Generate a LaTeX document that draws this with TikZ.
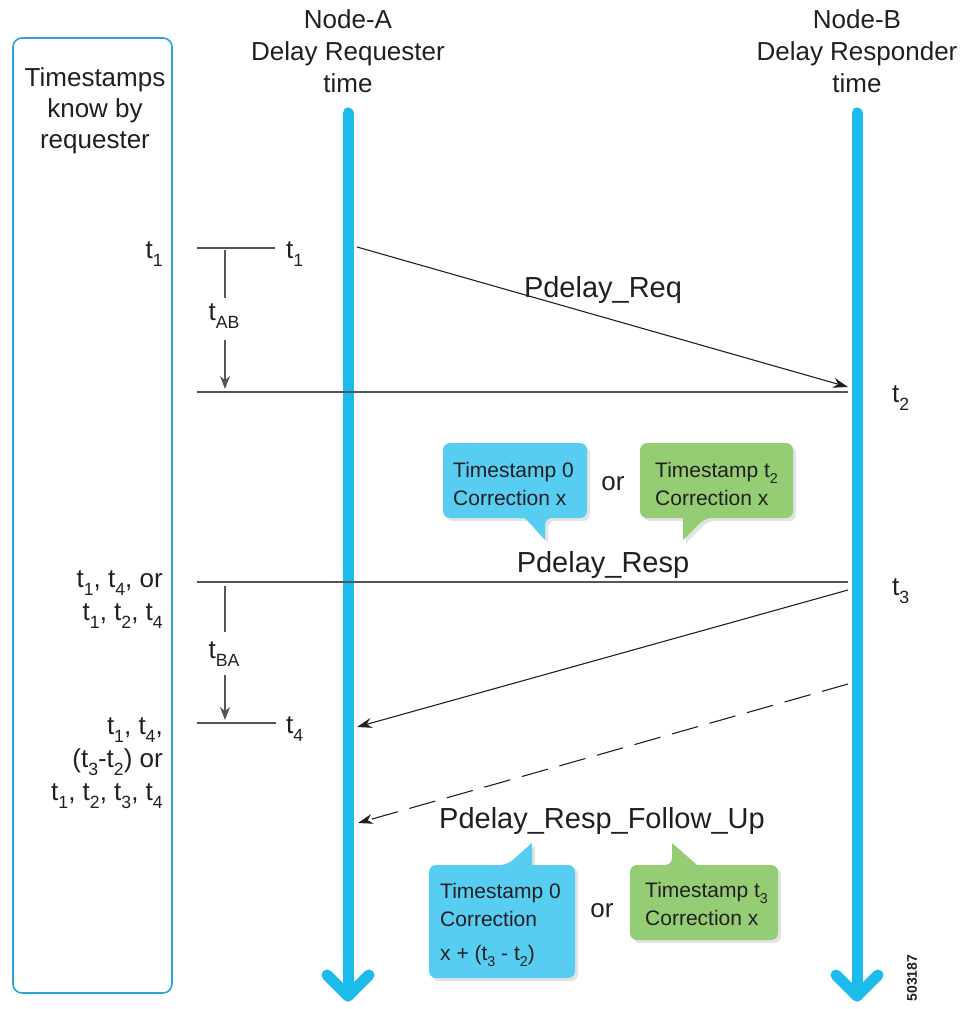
\documentclass[tikz,border=0pt]{standalone}
\usepackage{fontspec}
\setmainfont{Liberation Sans}
\usetikzlibrary{arrows.meta,shadows,calc}
\definecolor{tlblue}{RGB}{29,187,236}
\definecolor{boxblue}{RGB}{41,163,221}
\definecolor{calblue}{RGB}{88,205,242}
\definecolor{calgreen}{RGB}{148,205,116}
\definecolor{txt}{RGB}{35,31,32}
\definecolor{gl}{RGB}{85,85,85}
\newcommand\dn[1]{\raisebox{-0.6ex}{\scalebox{0.68}{#1}}}
\begin{document}
\begin{tikzpicture}[x=1pt,y=-1pt,
  hdr/.style={font=\fontsize{26}{32}\selectfont, align=center, inner sep=0pt, text=txt},
  lbl/.style={font=\fontsize{26}{33}\selectfont, inner sep=0pt, text=txt},
  msg/.style={font=\fontsize{29}{32}\selectfont, inner sep=0pt, text=txt},
  cal/.style={font=\fontsize{21}{28}\selectfont, align=left, inner sep=0pt, text=txt, anchor=base west},
  tline/.style={line width=11pt, draw=tlblue, line cap=round, line join=round},
  gline/.style={draw=gl, line width=1.3pt},
  msgarrow/.style={draw=txt, line width=1.1pt, -{Stealth[length=15pt,width=10pt]}},
  tickarrow/.style={gline, -{Stealth[length=13pt,width=10pt]}},
  callshadow/.style={drop shadow={opacity=0.22, shadow xshift=3pt, shadow yshift=-3pt}}]
\useasboundingbox (0,0) rectangle (965,1009);

% left box
\draw[draw=boxblue, line width=1.6pt, rounded corners=9pt] (13,38) rectangle (172,993);
\node[hdr, font=\fontsize{26}{31}\selectfont, anchor=base] (ttl) at (95,148) {Timestamps\\know by\\requester};

% headers (anchor = baseline of last line)
\node[hdr, anchor=base] (hA) at (348,92) {Node-A\\Delay Requester\\time};
\node[hdr, anchor=base] (hB) at (857,92) {Node-B\\Delay Responder\\time};

% lifelines
\coordinate (Atop) at (348,113);
\coordinate (Abot) at (348,996);
\coordinate (Btop) at (857,113);
\coordinate (Bbot) at (857,996);
\draw[tline] (Atop) -- (Abot);
\draw[tline] ($(Abot)+(-21,-21)$) -- (Abot) -- ($(Abot)+(21,-21)$);
\draw[tline] (Btop) -- (Bbot);
\draw[tline] ($(Bbot)+(-21,-21)$) -- (Bbot) -- ($(Bbot)+(21,-21)$);

% t1 row
\coordinate (h1L) at (197,248);
\coordinate (h1R) at (275,248);
\draw[gline] (h1L) -- (h1R);
\node[lbl, anchor=base east] (k1) at (163,258) {t\dn{1}};
\node[lbl, anchor=base west] (a1) at (286,258) {t\dn{1}};
\coordinate (v1a) at (225,250);
\coordinate (v1b) at (225,298);
\draw[gline] (v1a) -- (v1b);
\node[lbl, anchor=base] (tab) at (224,320) {t\dn{AB}};
\coordinate (v1c) at (225,340);
\coordinate (v1d) at (225,389);
\draw[tickarrow] (v1c) -- (v1d);
\coordinate (h2L) at (197,392);
\coordinate (h2R) at (848,392);
\draw[gline] (h2L) -- (h2R);
\node[lbl, anchor=base west] (b2) at (892,402) {t\dn{2}};

% Pdelay_Req
\coordinate (reqS) at (357,247);
\coordinate (reqE) at (848,387);
\draw[msgarrow] (reqS) -- (reqE);
\node[msg, anchor=base] (mreq) at (603,297) {Pdelay\_Req};

% upper callouts
\path[fill=calblue, callshadow, rounded corners=7pt] (443,443) -- (587,443) -- (587,518) -- (545,518) [sharp corners] -- (545,540) -- (525,518) [rounded corners=7pt] -- (443,518) -- cycle;
\path[fill=calgreen, callshadow, rounded corners=7pt] (640,443) -- (793,443) -- (793,518) -- (705,518) [sharp corners] -- (683,540) -- (683,518) [rounded corners=7pt] -- (640,518) -- cycle;
\node[cal] (c1t) at (453,505) {Timestamp 0\\Correction x};
\node[cal] (c2t) at (655,505) {Timestamp t\dn{2}\\Correction x};
\node[lbl, anchor=base] (or1) at (613,490) {or};

% Pdelay_Resp row
\node[msg, anchor=base] (mresp) at (603,572) {Pdelay\_Resp};
\coordinate (h3L) at (197,582);
\coordinate (h3R) at (848,582);
\draw[gline] (h3L) -- (h3R);
\node[lbl, anchor=base west] (b3) at (892,595) {t\dn{3}};
\node[lbl, align=right, anchor=base east] (k2) at (163,620) {t\dn{1}, t\dn{4}, or\\t\dn{1}, t\dn{2}, t\dn{4}};
\coordinate (v2a) at (225,586);
\coordinate (v2b) at (225,632);
\draw[gline] (v2a) -- (v2b);
\node[lbl, anchor=base] (tba) at (224,658) {t\dn{BA}};
\coordinate (v2c) at (225,675);
\coordinate (v2d) at (225,720);
\draw[tickarrow] (v2c) -- (v2d);
\coordinate (h4L) at (197,723);
\coordinate (h4R) at (276,723);
\draw[gline] (h4L) -- (h4R);
\node[lbl, anchor=base west] (a4) at (286,733) {t\dn{4}};
\node[lbl, align=right, anchor=base east] (k3) at (163,800) {t\dn{1}, t\dn{4},\\(t\dn{3}-t\dn{2}) or\\t\dn{1}, t\dn{2}, t\dn{3}, t\dn{4}};

% Pdelay_Resp arrow
\coordinate (rspS) at (848,590);
\coordinate (rspE) at (357,727);
\draw[msgarrow] (rspS) -- (rspE);

% Follow up (dashed)
\coordinate (fuS) at (848,684);
\coordinate (fuE) at (358,823);
\draw[msgarrow, dash pattern=on 27pt off 12pt] (fuS) -- (fuE);
\node[msg, anchor=base] (mfu) at (602,828) {Pdelay\_Resp\_Follow\_Up};

% lower callouts
\path[fill=calblue, callshadow, rounded corners=7pt] (429,865) -- (507,865) [sharp corners] -- (532,843) -- (532,865) [rounded corners=7pt] -- (575,865) -- (575,978) -- (429,978) -- cycle;
\path[fill=calgreen, callshadow, rounded corners=7pt] (630,865) -- (672,865) [sharp corners] -- (672,843) -- (697,865) [rounded corners=7pt] -- (778,865) -- (778,940) -- (630,940) -- cycle;
\node[cal] (c3t) at (440,960) {Timestamp 0\\Correction\\[6pt]x + (t\dn{3} - t\dn{2})};
\node[cal] (c4t) at (645,925) {Timestamp t\dn{3}\\Correction x};
\node[lbl, anchor=base] (or2) at (602,917) {or};

% figure id
\node[font=\fontsize{14}{14}\selectfont\bfseries, text=txt, rotate=90, inner sep=0pt] (fid) at (912,978) {503187};
\end{tikzpicture}
\end{document}
